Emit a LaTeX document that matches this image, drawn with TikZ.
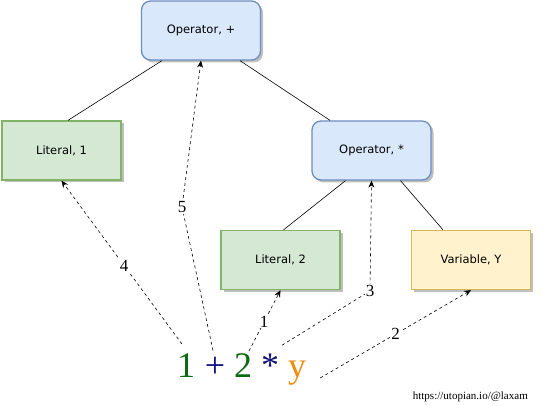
\documentclass[tikz,border=0pt]{standalone}
\usepackage{fontspec}
\setmainfont{Liberation Serif}
\newfontfamily\nodefont{DejaVu Sans}
\usetikzlibrary{shadows,arrows.meta,calc}
\definecolor{blueF}{HTML}{DAE8FC}
\definecolor{blueD}{HTML}{6C8EBF}
\definecolor{greenF}{HTML}{D5E8D4}
\definecolor{greenD}{HTML}{82B366}
\definecolor{yellowF}{HTML}{FFF2CC}
\definecolor{yellowD}{HTML}{D6B656}
\definecolor{exgreen}{HTML}{0B6B12}
\definecolor{exblue}{HTML}{10107F}
\definecolor{exorange}{HTML}{F28C0F}
\tikzset{
  box/.style={draw, line width=1.3pt, minimum width=119pt, minimum height=59pt,
    font=\nodefont\fontsize{11.5}{14}\selectfont,
    drop shadow={shadow xshift=2.5pt, shadow yshift=-2.5pt, opacity=0.25, fill=black}},
  opbox/.style={box, rounded corners=9pt, fill=blueF, draw=blueD},
  litbox/.style={box, fill=greenF, draw=greenD},
  varbox/.style={box, fill=yellowF, draw=yellowD},
  tree/.style={draw=black, line width=0.6pt},
  arr/.style={-{Stealth[length=7pt,width=6pt]}, dash pattern=on 3pt off 3pt, line width=0.6pt},
  lab/.style={fill=white, inner sep=1pt, font=\fontsize{17}{19}\selectfont},
  expr/.style={anchor=base, inner sep=0pt, font=\fontsize{36}{40}\selectfont}
}
\begin{document}
\begin{tikzpicture}[x=1pt,y=-1pt]
\useasboundingbox (0,0) rectangle (542,406);
% tree nodes
\node[opbox] (opp) at (201,30.5) {Operator, +};
\node[litbox] (lit1) at (61.5,150.5) {Literal, 1};
\node[opbox] (ops) at (371.5,150.5) {Operator, *};
\node[litbox] (lit2) at (280.5,260) {Literal, 2};
\node[varbox] (var) at (471,260) {Variable, Y};
% tree edges
\draw[tree] ([xshift=-39pt]opp.south) -- ([xshift=6.5pt]lit1.north);
\draw[tree] ([xshift=39pt]opp.south) -- ([xshift=-41.5pt]ops.north);
\draw[tree] ([xshift=-26pt]ops.south) -- ([xshift=3pt]lit2.north);
\draw[tree] ([xshift=29pt]ops.south) -- ([xshift=-28pt]var.north);
% expression
\node[expr, text=exgreen] (e1) at (186,378) {1};
\node[expr, text=exblue] (e2) at (215,378) {+};
\node[expr, text=exgreen] (e3) at (243,378) {2};
\node[expr, text=exblue] (e4) at (270,378) {*};
\node[expr, text=exorange] (e5) at (297,378) {y};
% mapping arrows
\coordinate (b5) at (182,207);
\coordinate (b3) at (370,291);
\draw[arr] ([shift={(-4pt,10pt)}]e1.north) -- node[lab, pos=0.48] {4} (lit1.south);
\draw[arr] ([shift={(-2pt,7pt)}]e2.north) -- (b5) -- (opp.south);
\node[lab] at (b5) {5};
\draw[arr] ([shift={(6pt,3pt)}]e3.north) -- node[lab, pos=0.48] {1} (lit2.south);
\draw[arr] ([shift={(12pt,9pt)}]e4.north) -- (b3) -- (ops.south);
\node[lab] at (b3) {3};
\draw[arr] ([shift={(14pt,0pt)}]e5.base east) -- node[lab, pos=0.5] {2} (var.south);
% watermark
\node[anchor=base east, inner sep=0pt, font=\fontsize{11}{12}\selectfont] (wm) at (528,400) {https://utopian.io/@laxam};
\end{tikzpicture}
\end{document}
